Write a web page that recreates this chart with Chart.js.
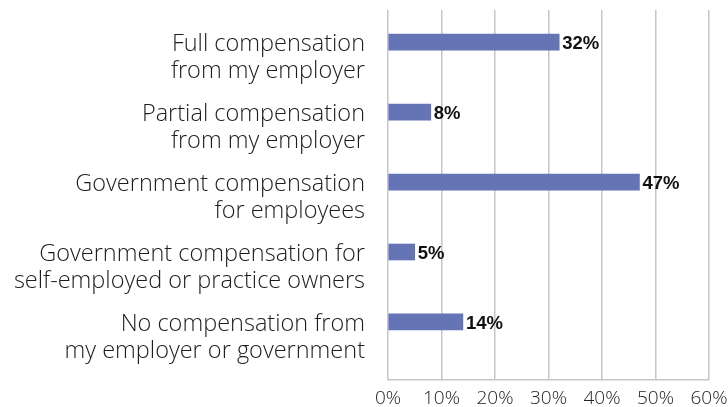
<!DOCTYPE html>
<html>
<head>
<meta charset="utf-8">
<script src="https://cdn.jsdelivr.net/npm/chart.js@4/dist/chart.umd.min.js"></script>
<style>
  body { margin: 0; background: #fff; }
  #wrap { width: 728px; height: 407px; }
</style>
</head>
<body>
<div id="wrap"><canvas id="grafico"></canvas></div>
<script>
const categorias = [
  ["Full compensation", "from my employer"],
  ["Partial compensation", "from my employer"],
  ["Government compensation", "for employees"],
  ["Government compensation for", "self-employed or practice owners"],
  ["No compensation from", "my employer or government"]
];
const valores = [32, 8, 47, 5, 14];
const ticksX = [0, 10, 20, 30, 40, 50, 60];

const fuente = "'Open Sans', 'Helvetica Neue', 'Liberation Sans', sans-serif";
const gris = "#c6c6c6";

// etiquetas en negrita al final de cada barra
const etiquetas = {
  id: "etiquetas",
  afterDatasetsDraw(chart) {
    const ctx = chart.ctx;
    const meta = chart.getDatasetMeta(0);
    ctx.save();
    ctx.font = "bold 18.5px 'Liberation Sans', Arial, sans-serif";
    ctx.fillStyle = "#111";
    ctx.textBaseline = "middle";
    ctx.textAlign = "left";
    meta.data.forEach((bar, i) => {
      ctx.fillText(valores[i] + "%", bar.x + 3, bar.y + 2);
    });
    ctx.restore();
  }
};

new Chart(document.getElementById("grafico"), {
  type: "bar",
  data: {
    datasets: [{
      data: valores.map((v, i) => ({ x: v, y: i })),
      backgroundColor: "#6574b5",
      barThickness: 16
    }]
  },
  options: {
    indexAxis: "y",
    responsive: true,
    maintainAspectRatio: false,
    animation: false,
    layout: { padding: { top: 10, right: 0, left: 0, bottom: 0 } },
    plugins: {
      legend: { display: false },
      tooltip: { enabled: false }
    },
    scales: {
      x: {
        type: "linear",
        min: 0,
        max: 60,
        afterBuildTicks: s => { s.ticks = ticksX.map(v => ({ value: v })); },
        afterFit: s => { s.height = 27; s.paddingRight = 19; s.paddingLeft = 0; },
        grid: { color: gris, lineWidth: 1.5, drawTicks: false },
        border: { display: true, color: gris, width: 1.5 },
        ticks: {
          padding: 7,
          color: "#222",
          font: { family: fuente, size: 19, weight: 300 },
          callback: v => v + "%"
        }
      },
      y: {
        type: "linear",
        reverse: true,
        offset: false,
        min: -0.46,
        max: 4.83,
        afterBuildTicks: s => { s.ticks = categorias.map((c, i) => ({ value: i })); },
        afterFit: s => { s.width = 388; s.paddingTop = 0; s.paddingBottom = 0; },
        grid: { display: false },
        border: { display: false },
        ticks: {
          padding: 15,
          labelOffset: 16,
          color: "#1c1c1c",
          font: { family: fuente, size: 23.5, weight: 300, lineHeight: 1.15 },
          callback: v => categorias[v]
        }
      }
    }
  },
  plugins: [etiquetas]
});
</script>
</body>
</html>
